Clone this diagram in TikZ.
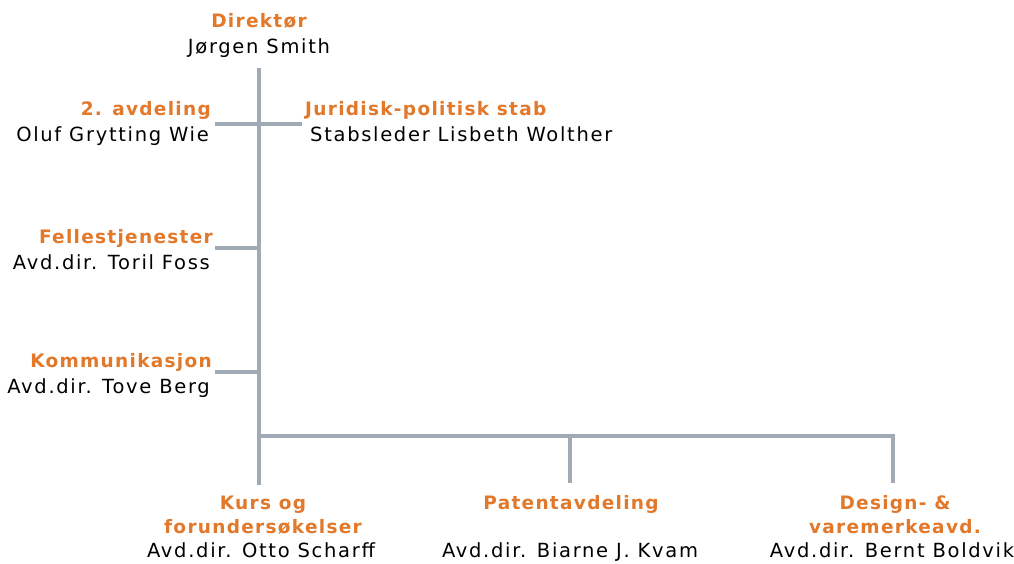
\documentclass[tikz,border=0pt]{standalone}
\usepackage{fontspec}
\setmainfont{DejaVu Sans}[LetterSpace=8.7]
\newfontfamily\titlefont{DejaVu Sans Bold}[LetterSpace=7]
\definecolor{orgorange}{RGB}{226,120,42}
\definecolor{orgline}{RGB}{160,170,180}
\begin{document}
\begin{tikzpicture}[x=1pt,y=-1pt,
  lineconn/.style={draw=orgline,line width=4pt},
  ttl/.style={inner sep=0pt,text=orgorange,font=\titlefont\fontsize{18.5}{22}\selectfont},
  nm/.style={inner sep=0pt,text=black,font=\fontsize{19.5}{23}\selectfont}]
\useasboundingbox[fill=white] (0,0) rectangle (1014,563);
% top
\node[ttl,anchor=base] (dirT) at (259,27) {Direktør};
\node[nm,anchor=base] (dirN) at (259,53) {Jørgen Smith};
\node[ttl,anchor=base east] (avdT) at (211,115) {2. avdeling};
\node[nm,anchor=base east] (avdN) at (209,141) {Oluf Grytting Wie};
\node[ttl,anchor=base west] (jurT) at (305,115) {Juridisk-politisk stab};
\node[nm,anchor=base west] (jurN) at (310,141) {Stabsleder Lisbeth Wolther};
\node[ttl,anchor=base east] (felT) at (213,243) {Fellestjenester};
\node[nm,anchor=base east] (felN) at (210,269) {Avd.dir. Toril Foss};
\node[ttl,anchor=base east] (komT) at (212,367) {Kommunikasjon};
\node[nm,anchor=base east] (komN) at (210,393) {Avd.dir. Tove Berg};
% bottom
\node[ttl,anchor=base] (kurT) at (263,509) {Kurs og};
\node[ttl,anchor=base] (kurT2) at (263,533) {forundersøkelser};
\node[nm,anchor=base] (kurN) at (261,557.5) {Avd.dir. Otto Scharff};
\node[ttl,anchor=base] (patT) at (571,509) {Patentavdeling};
\node[nm,anchor=base] (patN) at (570,557.5) {Avd.dir. Biarne J. Kvam};
\node[ttl,anchor=base] (desT) at (895,509) {Design- \&};
\node[ttl,anchor=base] (desT2) at (895,533) {varemerkeavd.};
\node[nm,anchor=base] (desN) at (892,557.5) {Avd.dir. Bernt Boldvik};
% connector points
\coordinate (top) at (259,68);
\coordinate (bot) at (259,485);
\coordinate (crossL) at (215,124);
\coordinate (crossR) at (302,124);
\coordinate (felL) at (215,248);
\coordinate (felC) at (259,248);
\coordinate (komL) at (215,372);
\coordinate (komC) at (259,372);
\coordinate (busL) at (259,436);
\coordinate (busM) at (570,436);
\coordinate (busR) at (893,436);
\coordinate (patE) at (570,483);
\coordinate (desE) at (893,483);
\path[lineconn] (top) -- (bot);
\path[lineconn] (crossL) -- (crossR);
\path[lineconn] (felL) -- (felC);
\path[lineconn] (komL) -- (komC);
\path[lineconn] (busL) -- (busR) -- (desE);
\path[lineconn] (busM) -- (patE);
\end{tikzpicture}
\end{document}
